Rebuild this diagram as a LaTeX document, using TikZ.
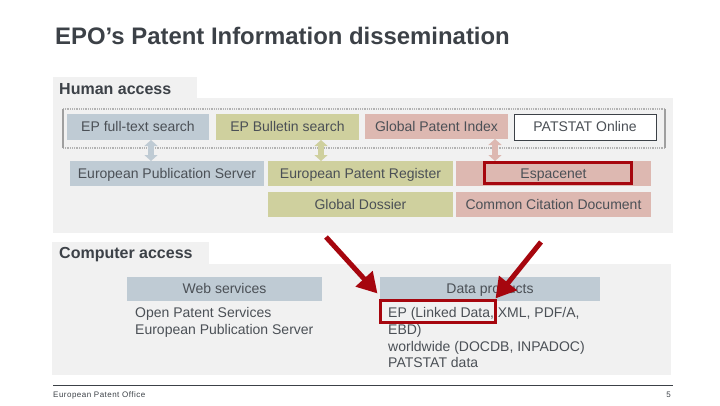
\documentclass[tikz,border=0pt]{standalone}
\usepackage{fontspec}
\setmainfont{Liberation Sans}
\usetikzlibrary{arrows.meta}
\definecolor{panel}{HTML}{F1F1F1}
\definecolor{bluebox}{HTML}{BFCBD4}
\definecolor{greenbox}{HTML}{CFD09E}
\definecolor{pinkbox}{HTML}{DDB8B1}
\definecolor{txt}{HTML}{4B5056}
\definecolor{head}{HTML}{3C4147}
\definecolor{redm}{HTML}{A6060E}
\tikzset{
  x=1pt,y=-1pt,
  box/.style={anchor=north west,inner sep=0pt,outer sep=0pt,text=txt,font=\fontsize{14}{16}\selectfont,align=center,text height=11pt,text depth=2pt},
  panelbox/.style={box,fill=panel},
  tabtext/.style={anchor=base west,inner sep=0pt,text=head,font=\bfseries\fontsize{16}{18}\selectfont},
  bluefill/.style={box,fill=bluebox},
  greenfill/.style={box,fill=greenbox},
  pinkfill/.style={box,fill=pinkbox},
  whitefill/.style={box,fill=white,draw=head,line width=0.9pt},
  redframe/.style={box,draw=redm,line width=3.2pt},
  link/.style={line width=6pt,{Triangle[width=13pt,length=6pt]}-{Triangle[width=13pt,length=6pt]}},
  pointer/.style={draw=redm,line width=5pt,-{Triangle[width=22pt,length=20pt]}},
  listtext/.style={anchor=north west,inner sep=0pt,text=txt,align=left,font=\fontsize{14}{16.6}\selectfont},
  groupedge/.style={draw=gray!60,line width=1.3pt,dash pattern=on 1pt off 0.8pt},
  groupside/.style={draw=gray!75,line width=1.4pt},
  small/.style={inner sep=0pt,text=head,font=\addfontfeatures{LetterSpace=6}\fontsize{8}{9}\selectfont},
}
\begin{document}
\begin{tikzpicture}
\useasboundingbox (0,0) rectangle (720,405);
\node[anchor=west,inner sep=0pt,text=head,font=\bfseries\fontsize{23.9}{28}\selectfont] (title) at (55,36) {EPO’s Patent Information dissemination};

% Human access panel
\node[panelbox,minimum width=144pt,minimum height=21pt] (humantab) at (53,77) {};
\node[panelbox,minimum width=620pt,minimum height=135pt] (humanpanel) at (53,98) {};
\node[tabtext] (humanlabel) at (59,94.5) {Human access};

% dotted group frame
\node[box,minimum width=602pt,minimum height=39pt] (group) at (63,109) {};
\draw[groupedge] (group.north west) -- (group.north east);
\draw[groupedge] (group.south west) -- (group.south east);
\draw[groupside] (group.north west) -- (group.south west);
\draw[groupside] (group.north east) -- (group.south east);

\node[bluefill,minimum width=142pt,minimum height=26pt] (ft) at (67,114) {EP full-text search};
\node[greenfill,minimum width=143pt,minimum height=26pt] (bul) at (216,114) {EP Bulletin search};
\node[pinkfill,minimum width=143pt,minimum height=25pt] (gpi) at (365,114) {Global Patent Index};
\node[whitefill,minimum width=142pt,minimum height=26pt] (pat) at (514,114) {PATSTAT Online};

\node[bluefill,minimum width=194pt,minimum height=25pt] (eps) at (70,161) {European Publication Server};
\node[greenfill,minimum width=185pt,minimum height=25pt] (epr) at (268,161) {European Patent Register};
\node[greenfill,minimum width=185pt,minimum height=25pt] (gd) at (268,192) {Global Dossier};
\node[pinkfill,minimum width=195pt,minimum height=25pt] (esp) at (456,161) {Espacenet};
\node[pinkfill,minimum width=195pt,minimum height=25pt] (ccd) at (456,192) {Common Citation Document};
\node[redframe,minimum width=147pt,minimum height=21pt] (espframe) at (484.5,162.5) {};

\draw[link,draw=bluebox] ([xshift=13pt]ft.south) -- ([xshift=-16pt]eps.north);
\draw[link,draw=greenbox] ([xshift=33.5pt]bul.south) -- ([xshift=-39.5pt]epr.north);
\draw[link,draw=pinkbox] ([xshift=58.5pt]gpi.south) -- ([xshift=-58.5pt]esp.north);

% Computer access panel
\node[panelbox,minimum width=157pt,minimum height=22pt] (comptab) at (52,242) {};
\node[panelbox,minimum width=619pt,minimum height=111pt] (comppanel) at (52,264) {};
\node[tabtext] (complabel) at (59,258.5) {Computer access};

\node[bluefill,minimum width=195pt,minimum height=24pt] (web) at (127,277) {Web services};
\node[bluefill,minimum width=220pt,minimum height=24pt] (data) at (380,277) {Data products};
\node[listtext] (weblist) at (135,307.5) {Open Patent Services\\European Publication Server};
\node[listtext] (datalist) at (388,307.5) {EP (Linked Data, XML, PDF/A,\\EBD)\\worldwide (DOCDB, INPADOC)\\PATSTAT data};
\node[redframe,minimum width=115pt,minimum height=22pt] (epframe) at (380.5,300.5) {};

\coordinate (lefttail) at (326,237);
\coordinate (righttail) at (541,242);
\draw[pointer] (lefttail) -- ([shift={(-3,-7)}]epframe.north west);
\draw[pointer] (righttail) -- ([shift={(0,-2)}]epframe.north east);

% footer
\coordinate (footl) at (53,385);
\coordinate (footr) at (673,385);
\draw[draw=head,line width=0.9pt] (footl) -- (footr);
\node[small,anchor=west] (office) at (53,395) {European Patent Office};
\node[small,anchor=east] (pageno) at (671,395) {5};
\end{tikzpicture}
\end{document}
